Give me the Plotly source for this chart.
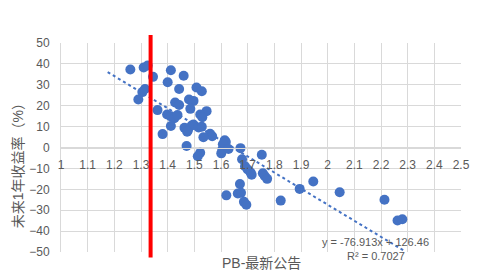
import plotly.graph_objects as go

# PB (latest report) vs forward 1-year return (%)
pb = [1.26, 1.31, 1.325, 1.345, 1.315, 1.305, 1.29, 1.362, 1.412, 1.460,
      1.400, 1.443, 1.508, 1.528, 1.480, 1.497, 1.428, 1.443, 1.485, 1.546,
      1.398, 1.412, 1.425, 1.437, 1.522, 1.530, 1.412, 1.463, 1.476, 1.490,
      1.497, 1.516, 1.528, 1.381, 1.473, 1.559, 1.567, 1.534, 1.614, 1.618,
      1.607, 1.471, 1.522, 1.513, 1.601, 1.605, 1.628, 1.673, 1.679, 1.690,
      1.700, 1.711, 1.715, 1.753, 1.757, 1.764, 1.773, 1.671, 1.620, 1.663,
      1.675, 1.686, 1.695, 1.824, 1.895, 1.946, 2.045, 2.213, 2.262, 2.280]
ret = [37.3, 38.3, 39.2, 33.8, 28.0, 26.5, 23.0, 17.9, 37.0, 34.3,
       31.2, 28.0, 28.7, 26.9, 23.0, 22.3, 21.5, 20.3, 18.5, 17.4,
       15.8, 14.9, 14.0, 15.5, 15.8, 14.5, 10.3, 9.4, 8.2, 10.5,
       11.0, 9.6, 9.9, 6.4, 7.5, 6.6, 5.4, 4.9, 3.5, 2.6,
       1.5, 0.7, -2.5, -4.2, -2.8, -1.0, -0.7, -0.3, -5.6, -9.0,
       -10.5, -12.0, -13.0, -3.5, -12.3, -13.6, -15.0, -17.5, -22.9, -22.0,
       -21.7, -26.0, -27.4, -25.4, -19.8, -16.3, -21.4, -25.0, -34.9, -34.3]

# linear trend line (Excel)
slope = -76.913
intercept = 126.46
r2 = 0.7027
trend_x = [1.175, 2.286]
trend_y = [slope * v + intercept for v in trend_x]

# threshold PB (red vertical line)
pb_threshold = 1.336

x_ticks = [1, 1.1, 1.2, 1.3, 1.4, 1.5, 1.6, 1.7, 1.8, 1.9, 2, 2.1, 2.2, 2.3, 2.4, 2.5]
x_tick_labels = ["1", "1.1", "1.2", "1.3", "1.4", "1.5", "1.6", "1.7", "1.8", "1.9",
                 "2", "2.1", "2.2", "2.3", "2.4", "2.5"]
y_ticks = [50, 40, 30, 20, 10, 0, -10, -20, -30, -40, -50]

BLUE = "#4472C4"
GRID = "#D9D9D9"
TXT = "#595959"
FONT = "Liberation Sans, Noto Sans CJK SC, sans-serif"

fig = go.Figure()
fig.add_trace(go.Scatter(
    x=trend_x, y=trend_y, mode="lines",
    line=dict(color=BLUE, width=2, dash="dot"),
    hoverinfo="skip", showlegend=False))
fig.add_trace(go.Scatter(
    x=pb, y=ret, mode="markers",
    marker=dict(color=BLUE, size=10, line=dict(width=0)),
    showlegend=False, cliponaxis=False))

fig.add_shape(type="line", xref="x", yref="paper",
              x0=pb_threshold, x1=pb_threshold, y0=-0.026, y1=1.038,
              line=dict(color="#FF0000", width=4), layer="above")

fig.add_annotation(xref="paper", yref="paper", x=0.787, y=0.05,
                   xanchor="center", yanchor="middle",
                   text=f"y = {slope}x + {intercept}", showarrow=False,
                   font=dict(size=11, color=TXT, family=FONT))
fig.add_annotation(xref="paper", yref="paper", x=0.787, y=-0.018,
                   xanchor="center", yanchor="middle",
                   text=f"R² = {r2}", showarrow=False,
                   font=dict(size=11, color=TXT, family=FONT))
fig.add_annotation(xref="paper", yref="paper", x=0.5, y=-0.051,
                   xanchor="center", yanchor="middle",
                   text="PB-最新公告", showarrow=False,
                   font=dict(size=14, color=TXT, family=FONT))
fig.add_annotation(xref="paper", yref="paper", x=-0.107, y=0.43,
                   xanchor="center", yanchor="middle",
                   text="未来1年收益率（%）", showarrow=False,
                   textangle=-90,
                   font=dict(size=14, color=TXT, family=FONT))

fig.update_layout(
    width=480, height=274,
    margin=dict(l=61, r=10, t=43, b=22),
    paper_bgcolor="white", plot_bgcolor="white",
    font=dict(family=FONT, size=12, color=TXT),
    xaxis=dict(range=[1, 2.5], tickvals=x_ticks, ticktext=x_tick_labels,
               showgrid=True, gridcolor=GRID, gridwidth=1,
               zeroline=False, showline=True, linecolor=GRID, linewidth=1,
               anchor="free", position=0.5, ticks="", ticklabelstandoff=6,
               tickfont=dict(size=12, color=TXT)),
    yaxis=dict(range=[-50, 50], tickvals=y_ticks,
               showgrid=True, gridcolor=GRID, gridwidth=1,
               zeroline=False, showline=True, linecolor=GRID, linewidth=1,
               ticks="", ticklabelstandoff=8,
               tickfont=dict(size=12, color=TXT)),
)

fig.write_html("out.html")
